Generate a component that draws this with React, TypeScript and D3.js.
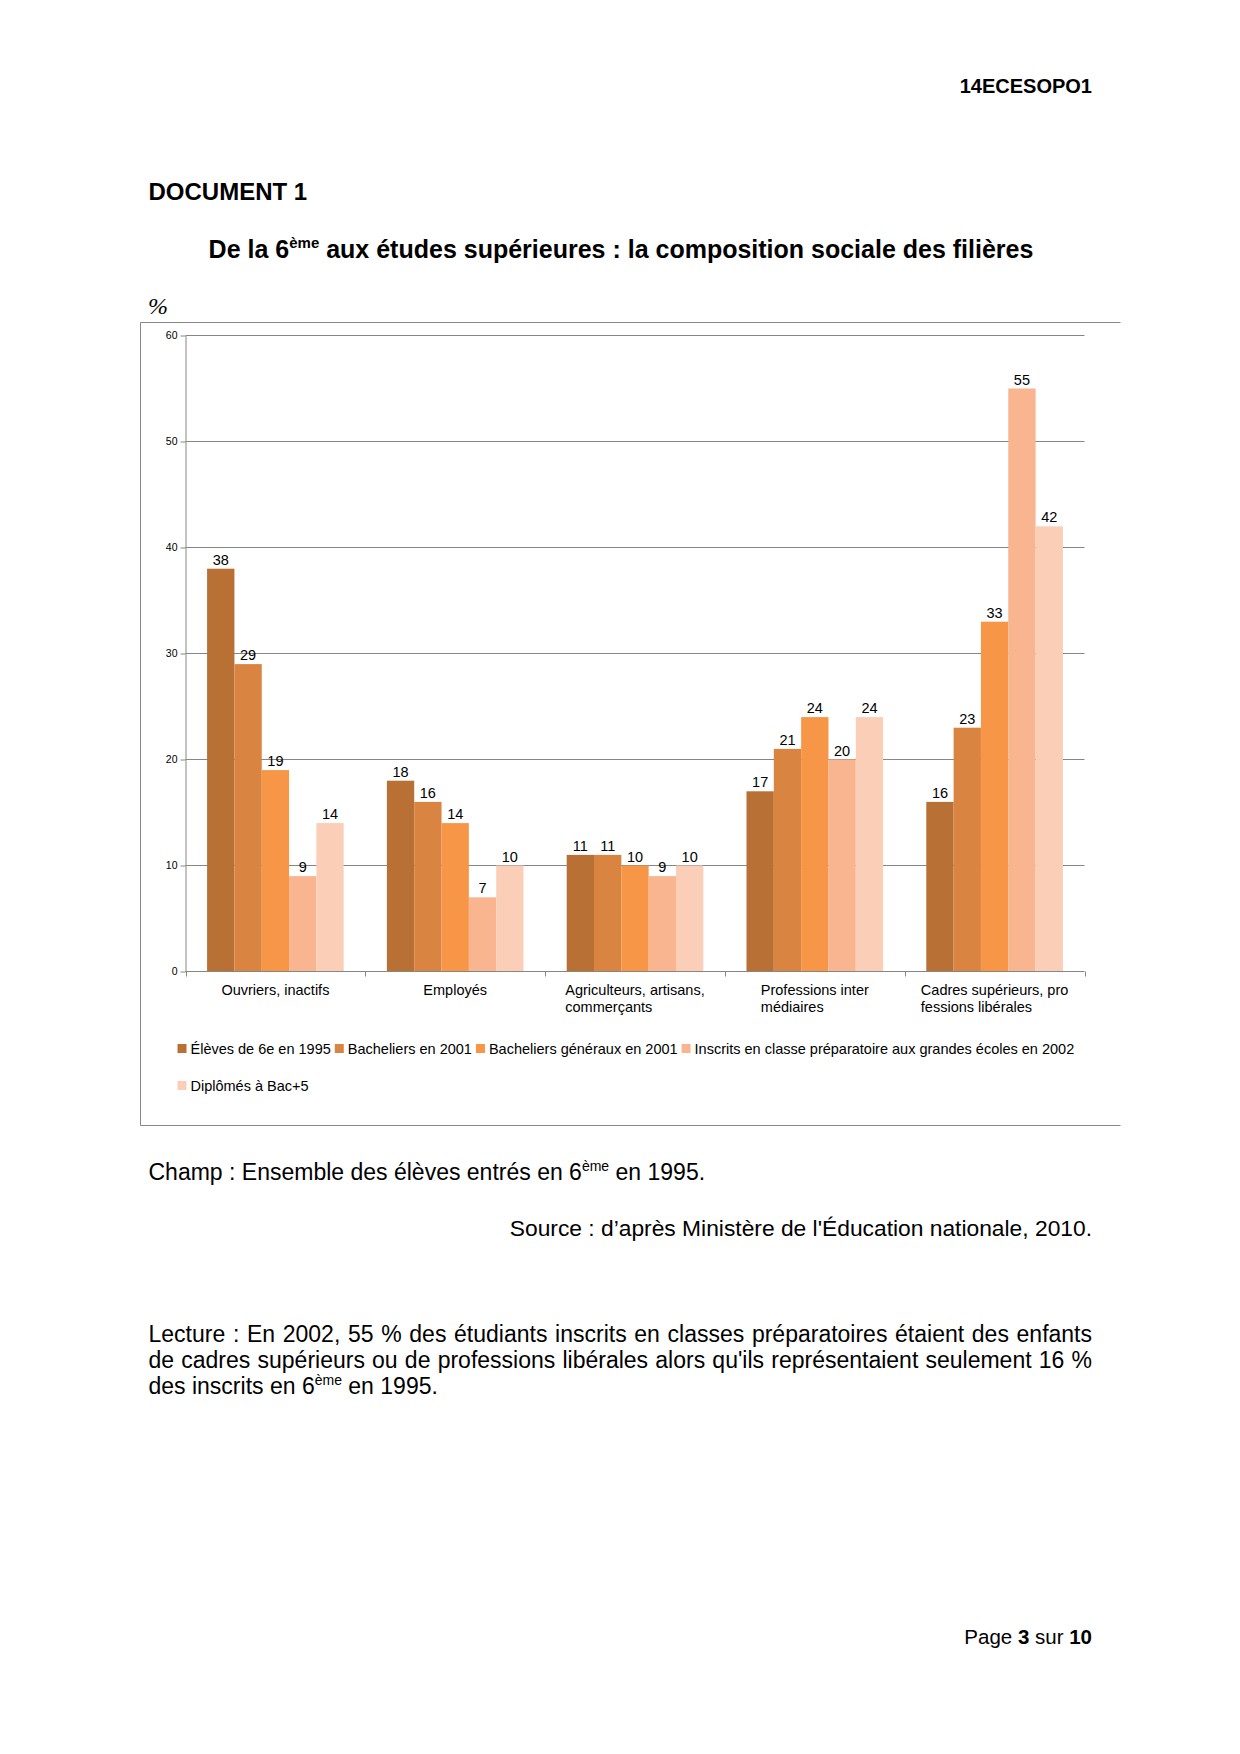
import React, { useRef, useEffect } from 'react';
import * as d3 from 'd3';

// categories (line breaks as in the original chart)
const categories = [
    'Ouvriers, inactifs',
    'Employés',
    'Agriculteurs, artisans,\ncommerçants',
    'Professions inter\nmédiaires',
    'Cadres supérieurs, pro\nfessions libérales',
];

const seriesNames = [
    'Élèves de 6e en 1995',
    'Bacheliers en 2001',
    'Bacheliers généraux en 2001',
    'Inscrits en classe préparatoire aux grandes écoles en 2002',
    'Diplômés à Bac+5',
];

const eleves6e1995 = [38, 18, 11, 17, 16];
const bacheliers2001 = [29, 16, 11, 21, 23];
const bacheliersGeneraux2001 = [19, 14, 10, 24, 33];
const inscritsPrepa2002 = [9, 7, 9, 20, 55];
const diplomesBac5 = [14, 10, 10, 24, 42];

const yTicks = [0, 10, 20, 30, 40, 50, 60];

const seriesColors = ['#B97034', '#DA8441', '#F79646', '#F9B590', '#FBCEB8'];

const FONT = "'Liberation Sans', Arial, sans-serif";

export default function App() {
    const svgRef = useRef<SVGSVGElement>(null);

    useEffect(() => {
        if (!svgRef.current) return;
        const width = 1240;
        const height = 1754;
        const svg = d3.select(svgRef.current)
            .attr('width', width)
            .attr('height', height)
            .attr('viewBox', `0 0 ${width} ${height}`)
            .style('font-family', FONT);
        svg.selectAll('*').remove();

        svg.append('rect').attr('width', width).attr('height', height).attr('fill', 'white');

        // ---- page header ----
        svg.append('text')
            .attr('x', 1092).attr('y', 93)
            .attr('text-anchor', 'end')
            .attr('font-size', 20).attr('font-weight', 'bold')
            .text('14ECESOPO1');

        svg.append('text')
            .attr('x', 148.5).attr('y', 200)
            .attr('font-size', 24).attr('font-weight', 'bold')
            .text('DOCUMENT 1');

        const title = svg.append('text')
            .attr('x', 621).attr('y', 258)
            .attr('text-anchor', 'middle')
            .attr('font-size', 25).attr('font-weight', 'bold');
        title.append('tspan').text('De la 6');
        title.append('tspan').attr('font-size', 15).attr('dy', -10).text('ème');
        title.append('tspan').attr('dy', 10).text(' aux études supérieures : la composition sociale des filières');

        svg.append('text')
            .attr('x', 148).attr('y', 314)
            .attr('font-family', "'Liberation Serif', serif")
            .attr('font-style', 'italic')
            .attr('font-size', 24)
            .text('%');

        // ---- chart frame ----
        svg.append('path')
            .attr('d', 'M1120.5,322.5H140.5V1125.5H1120.5')
            .attr('fill', 'none')
            .attr('stroke', '#868686');

        const plot = { left: 185.5, right: 1084.5, top: 335.5, bottom: 971.5 };

        const x0 = d3.scaleBand<string>()
            .domain(categories)
            .range([plot.left, plot.right])
            .padding(0);

        const x1 = d3.scaleBand<string>()
            .domain(seriesNames)
            .range([0, x0.bandwidth()])
            .paddingInner(0)
            .paddingOuter(0.79);

        const y = d3.scaleLinear()
            .domain([0, 60])
            .range([plot.bottom, plot.top]);

        // gridlines
        svg.append('g')
            .selectAll('line')
            .data(yTicks.filter(t => t > 0))
            .join('line')
            .attr('x1', plot.left).attr('x2', plot.right)
            .attr('y1', d => y(d)).attr('y2', d => y(d))
            .attr('stroke', '#868686');

        // bars
        const seriesValues = [eleves6e1995, bacheliers2001, bacheliersGeneraux2001, inscritsPrepa2002, diplomesBac5];
        const barData = seriesValues.flatMap((vals, si) =>
            vals.map((v, ci) => ({ cat: categories[ci], series: seriesNames[si], si, v })));

        svg.append('g')
            .selectAll('rect')
            .data(barData)
            .join('rect')
            .attr('x', d => (x0(d.cat) ?? 0) + (x1(d.series) ?? 0))
            .attr('y', d => y(d.v))
            .attr('width', x1.bandwidth())
            .attr('height', d => y(0) - y(d.v))
            .attr('fill', d => seriesColors[d.si]);

        // value labels
        svg.append('g')
            .selectAll('text')
            .data(barData)
            .join('text')
            .attr('x', d => (x0(d.cat) ?? 0) + (x1(d.series) ?? 0) + x1.bandwidth() / 2)
            .attr('y', d => y(d.v) - 4)
            .attr('text-anchor', 'middle')
            .attr('font-size', 14.5)
            .attr('fill', '#000')
            .text(d => d.v);

        // y axis
        const yAxis = svg.append('g')
            .attr('transform', `translate(${plot.left},0)`)
            .call(d3.axisLeft(y).tickValues(yTicks).tickSize(5).tickPadding(3).tickSizeOuter(0));
        yAxis.select('.domain').attr('stroke', '#868686');
        yAxis.selectAll('.tick line').attr('stroke', '#868686');
        yAxis.selectAll('.tick text')
            .attr('font-size', 10.5)
            .attr('font-family', FONT)
            .attr('fill', '#000');

        // x axis
        svg.append('line')
            .attr('x1', plot.left).attr('x2', plot.right)
            .attr('y1', y(0)).attr('y2', y(0))
            .attr('stroke', '#868686');
        const boundaries = [...categories.map(c => x0(c) ?? 0), plot.right];
        svg.append('g')
            .selectAll('line')
            .data(boundaries)
            .join('line')
            .attr('x1', d => Math.round(d) + 0.5).attr('x2', d => Math.round(d) + 0.5)
            .attr('y1', y(0)).attr('y2', y(0) + 5)
            .attr('stroke', '#868686');

        // category labels: block centred, lines left aligned
        categories.forEach(cat => {
            const lines = cat.split('\n');
            const g = svg.append('g');
            const texts = lines.map((ln, i) => g.append('text')
                .attr('y', 995 + i * 17)
                .attr('font-size', 14.5)
                .attr('fill', '#000')
                .text(ln));
            const maxW = d3.max(texts, t => (t.node() as SVGTextElement).getComputedTextLength()) ?? 0;
            const cx = (x0(cat) ?? 0) + x0.bandwidth() / 2;
            texts.forEach(t => t.attr('x', cx - maxW / 2));
        });

        // legend
        const legendLeft = 177.5;
        const legendRight = 1090;
        let lx = legendLeft;
        let row = 0;
        seriesNames.forEach((name, i) => {
            const g = svg.append('g');
            const t = g.append('text')
                .attr('font-size', 14.5)
                .attr('fill', '#000')
                .text(name);
            const tw = (t.node() as SVGTextElement).getComputedTextLength();
            const itemW = 9 + 4 + tw;
            if (lx + itemW > legendRight && lx > legendLeft) {
                row += 1;
                lx = legendLeft;
            }
            const base = 1054 + row * 37;
            g.append('rect')
                .attr('x', lx).attr('y', base - 10)
                .attr('width', 9).attr('height', 9)
                .attr('fill', seriesColors[i]);
            t.attr('x', lx + 13).attr('y', base);
            lx += itemW + 4;
        });

        // ---- notes below chart ----
        const champ = svg.append('text')
            .attr('x', 148.5).attr('y', 1180)
            .attr('font-size', 23);
        champ.append('tspan').text('Champ : Ensemble des élèves entrés en 6');
        champ.append('tspan').attr('font-size', 14).attr('dy', -9).text('ème');
        champ.append('tspan').attr('dy', 9).text(' en 1995.');

        svg.append('text')
            .attr('x', 1092).attr('y', 1236)
            .attr('text-anchor', 'end')
            .attr('font-size', 22.8)
            .text('Source : d’après Ministère de l\'Éducation nationale, 2010.');

        const lectureLines = [
            'Lecture : En 2002, 55 % des étudiants inscrits en classes préparatoires étaient des enfants',
            'de cadres supérieurs ou de professions libérales alors qu\'ils représentaient seulement 16 %',
        ];
        lectureLines.forEach((ln, i) => {
            const t = svg.append('text')
                .attr('x', 148.5).attr('y', 1342 + i * 26)
                .attr('font-size', 23)
                .text(ln);
            const w = (t.node() as SVGTextElement).getComputedTextLength();
            const spaces = (ln.match(/ /g) || []).length;
            t.attr('word-spacing', (1092 - 148.5 - w) / spaces);
        });
        const last = svg.append('text')
            .attr('x', 148.5).attr('y', 1394)
            .attr('font-size', 23);
        last.append('tspan').text('des inscrits en 6');
        last.append('tspan').attr('font-size', 14).attr('dy', -9).text('ème');
        last.append('tspan').attr('dy', 9).text(' en 1995.');

        // page footer
        const page = svg.append('text')
            .attr('x', 1092).attr('y', 1644)
            .attr('text-anchor', 'end')
            .attr('font-size', 20.5);
        page.append('tspan').text('Page ');
        page.append('tspan').attr('font-weight', 'bold').text('3');
        page.append('tspan').text(' sur ');
        page.append('tspan').attr('font-weight', 'bold').text('10');
    }, []);

    return (
        <div style={{ position: 'absolute', left: 0, top: 0 }}>
            <svg ref={svgRef} style={{ display: 'block' }} />
        </div>
    );
}
